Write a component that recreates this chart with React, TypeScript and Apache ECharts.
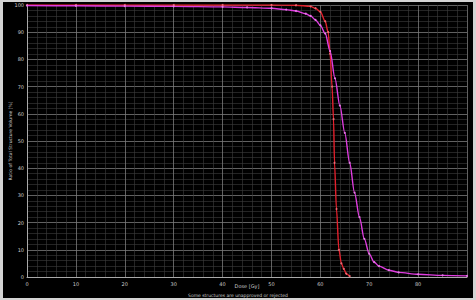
import React, { useEffect, useRef } from "react";
import * as echarts from "echarts";

const xTicks = [0, 10, 20, 30, 40, 50, 60, 70, 80, 90];
const yTicks = [0, 10, 20, 30, 40, 50, 60, 70, 80, 90, 100];

const redDose = [0, 10, 20, 30, 40, 50, 55, 58, 59, 60, 61, 61.6, 62, 62.4, 62.7, 62.9, 63.3, 63.8, 64.3, 64.8, 65.3, 66];
const redVolume = [100, 100, 100, 100, 100, 100, 99.9, 99.5, 98.8, 97.5, 94, 90, 82, 70, 58, 42, 25, 10, 5, 3, 1.2, 0.3];

const magentaDose = [0, 10, 20, 30, 40, 45, 50, 53, 55, 57, 58, 59, 60, 61, 62, 63, 64, 65, 66, 67, 68, 69, 70, 71, 72, 74, 76, 80, 85, 90];
const magentaVolume = [99.8, 99.7, 99.6, 99.5, 99.3, 99.1, 98.8, 98.3, 97.8, 96.8, 96, 94.5, 92.5, 89.5, 83, 73, 63, 53, 42, 31, 22, 14, 8.5, 5.5, 4, 2.5, 1.7, 1, 0.6, 0.4];

const xTitle = "Dose [Gy]";
const yTitle = "Ratio of Total Structure Volume [%]";
const footer = "Some structures are unapproved or rejected";

export default function App() {
  const ref = useRef<HTMLDivElement>(null);
  useEffect(() => {
    if (!ref.current) return;
    const chart = echarts.init(ref.current, undefined, { renderer: "svg" });
    const mk = (xs: number[], ys: number[]) => xs.map((x, i) => [x, ys[i]]);
    chart.setOption({
      animation: false,
      backgroundColor: "#000",
      grid: { left: 24, right: 6, top: 3, bottom: 21, containLabel: false, outerBoundsMode: "none" },
      xAxis: {
        type: "value",
        min: xTicks[0],
        max: xTicks[xTicks.length - 1],
        interval: 10,
        name: xTitle,
        nameLocation: "middle",
        nameGap: 6,
        nameMoveOverlap: false,
        nameTextStyle: { color: "#ccc", fontSize: 5, fontFamily: "DejaVu Sans" },
        axisLine: { show: true, lineStyle: { color: "#aaa", width: 1 } },
        axisTick: { show: false },
        axisLabel: { color: "#ccc", fontSize: 5, margin: 4, fontFamily: "DejaVu Sans", showMaxLabel: false },
        splitLine: { show: true, lineStyle: { color: "#7a7a7a", width: 0.8 } },
        minorTick: { show: false, splitNumber: 5 },
        minorSplitLine: { show: true, lineStyle: { color: "#3c3c3c", width: 0.6 } },
      },
      yAxis: {
        type: "value",
        min: yTicks[0],
        max: yTicks[yTicks.length - 1],
        interval: 10,
        name: yTitle,
        nameLocation: "middle",
        nameGap: 14,
        nameMoveOverlap: false,
        nameTextStyle: { color: "#ccc", fontSize: 4.5, fontFamily: "DejaVu Sans" },
        axisLine: { show: true, lineStyle: { color: "#aaa", width: 1 } },
        axisTick: { show: false },
        axisLabel: { color: "#ccc", fontSize: 5, margin: 3, fontFamily: "DejaVu Sans" },
        splitLine: { show: true, lineStyle: { color: "#7a7a7a", width: 0.8 } },
        minorTick: { show: false, splitNumber: 5 },
        minorSplitLine: { show: true, lineStyle: { color: "#3c3c3c", width: 0.6 } },
      },
      graphic: [
        {
          type: "text",
          left: "center",
          top: 291,
          style: { text: footer, fill: "#ccc", fontSize: 4.5, fontFamily: "DejaVu Sans" },
        },
      ],
      series: [
        {
          type: "line",
          data: mk(magentaDose, magentaVolume),
          smooth: 0.3,
          smoothMonotone: "x",
          symbol: "circle",
          symbolSize: 2,
          itemStyle: { color: "#e87ce8" },
          lineStyle: { color: "#e03ce0", width: 1.4 },
          z: 3,
        },
        {
          type: "line",
          data: mk(redDose, redVolume),
          smooth: 0.3,
          smoothMonotone: "x",
          symbol: "circle",
          symbolSize: 2,
          itemStyle: { color: "#ee6a74" },
          lineStyle: { color: "#e3202c", width: 1.4 },
          z: 2,
        },
      ],
    });
    return () => chart.dispose();
  }, []);
  return (
    <div style={{ position: "fixed", left: 0, top: 0, width: 476, height: 300, background: "#d4d4d4" }}>
      <div ref={ref} style={{ position: "absolute", left: 3, top: 2, width: 470, height: 296 }} />
    </div>
  );
}
